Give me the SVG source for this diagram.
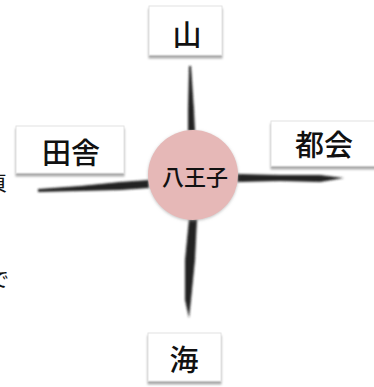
<svg xmlns="http://www.w3.org/2000/svg" width="374" height="387" viewBox="0 0 374 387">
<defs>
<filter id="sh" x="-20%" y="-20%" width="140%" height="150%">
<feDropShadow dx="0" dy="3" stdDeviation="1.2" flood-color="#888" flood-opacity="0.7"/>
</filter>
<filter id="brush" x="-20%" y="-20%" width="140%" height="140%">
<feGaussianBlur stdDeviation="1"/>
</filter>
<filter id="csh" x="-20%" y="-20%" width="140%" height="140%">
<feDropShadow dx="0" dy="1" stdDeviation="1.5" flood-color="#999" flood-opacity="0.6"/>
</filter>
</defs>
<style>
.box{fill:#fff;stroke:#e2e2e2;stroke-width:1;filter:url(#sh)}
.lbl{font-family:"Noto Sans CJK JP","Noto Sans CJK SC",sans-serif;font-size:29px;font-weight:500;fill:#111;text-anchor:middle;dominant-baseline:central}
.stroke{fill:#222;filter:url(#brush)}
.edge{font-family:"Noto Sans CJK JP",sans-serif;font-size:20px;fill:#111}
</style>
<rect width="374" height="387" fill="#fff"/>
<text class="edge" x="-13" y="191">頁</text>
<text class="edge" x="-11" y="287">で</text>
<g id="connectors">
<path class="stroke" d="M189,66 L191,66 L194,110 L195,131 L188,131 L188,110 Z"/>
<path class="stroke" d="M189,219 L197,219 L195,260 L191,300 L189,318 L185,300 L185,260 Z"/>
<path class="stroke" d="M38,189 L80,186 L120,182 L149,180 L149,188 L120,190 L80,191 L38,192 Z"/>
<path class="stroke" d="M237,174 L280,175 L320,175 L344,178 L320,182 L280,181 L237,182 Z"/>
</g>
<g id="node-yama">
<rect class="box" x="149" y="6" width="73" height="49"/>
<text class="lbl" x="187" y="33">山</text>
</g>
<g id="node-inaka">
<rect class="box" x="16" y="126" width="108" height="47"/>
<text class="lbl" x="71" y="151">田舎</text>
</g>
<g id="node-tokai">
<rect class="box" x="271" y="121" width="108" height="45"/>
<text class="lbl" x="324" y="143">都会</text>
</g>
<g id="node-umi">
<rect class="box" x="148" y="333" width="73" height="48"/>
<text class="lbl" x="184" y="358">海</text>
</g>
<g id="node-hachioji">
<circle cx="193" cy="175" r="45" fill="#e6b8b7" filter="url(#csh)"/>
<text class="lbl" x="195" y="175" style="font-size:22px">八王子</text>
</g>
</svg>
